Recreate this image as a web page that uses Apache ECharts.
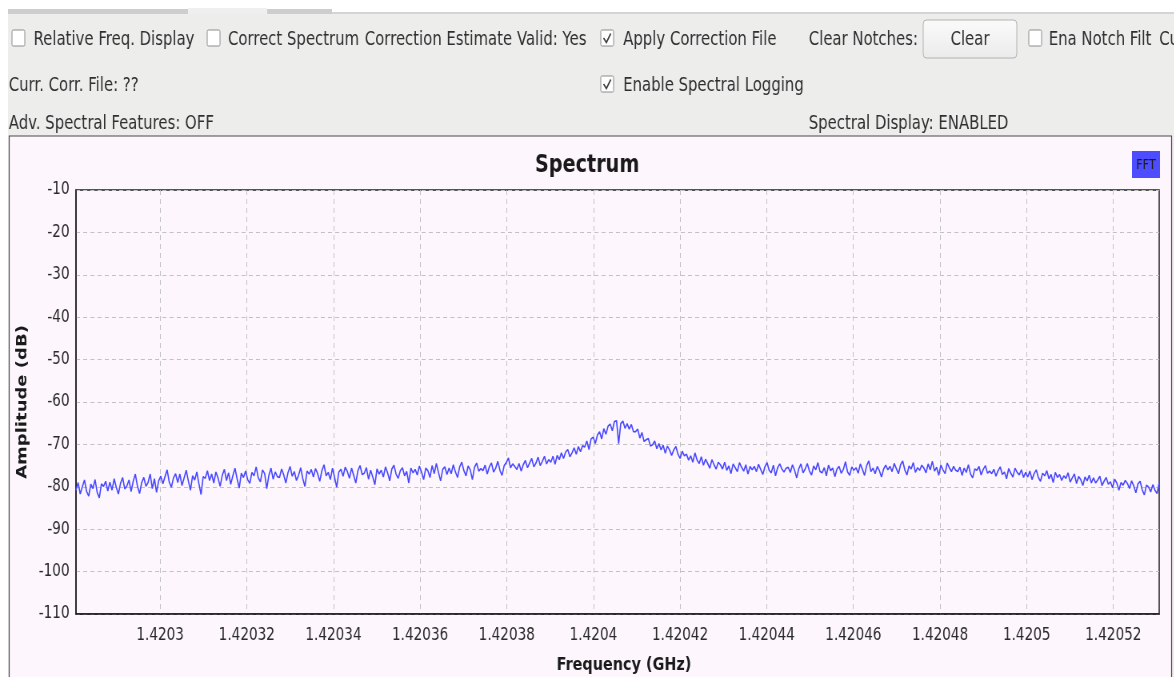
<!DOCTYPE html>
<html>
<head>
<meta charset="utf-8">
<title>Spectrum</title>
<script src="https://cdn.jsdelivr.net/npm/echarts@6/dist/echarts.min.js"></script>
<style>
  html, body { margin: 0; padding: 0; overflow: hidden; background: #ffffff; width: 1174px; height: 677px; }
  /* the widget is laid out wide and squeezed horizontally to fit the window */
  #chart { width: 1468px; height: 677px; transform: scaleX(0.8); transform-origin: 0 0; }
</style>
</head>
<body>
<div id="chart"></div>
<script>
// Frequency span of the FFT display (GHz)
const freqStart = 1.42028058;
const freqStop = 1.42053058;

// Tick positions on the frequency axis (GHz)
const freqTicks = [1.4203, 1.42032, 1.42034, 1.42036, 1.42038, 1.4204,
                   1.42042, 1.42044, 1.42046, 1.42048, 1.4205, 1.42052];

// Amplitude axis range (dB)
const ampMin = -110;
const ampMax = -10;
const ampStep = 10;

// Averaged power spectrum, one value per FFT bin (dB)
const amplitudeDb = [
  -80.8,-79.0,-81.7,-80.0,-78.4,-81.1,-82.2,-79.4,-80.4,-78.3,-81.3,-82.6,-79.3,-79.9,-78.7,-81.0,
  -78.9,-80.8,-78.1,-80.1,-81.7,-79.2,-77.8,-80.5,-79.8,-78.4,-81.1,-78.7,-77.0,-79.9,-81.6,-79.0,
  -77.8,-79.9,-79.0,-77.0,-80.4,-78.1,-81.3,-78.6,-77.5,-79.3,-77.6,-76.0,-78.9,-80.1,-77.9,-76.9,
  -79.0,-77.0,-79.7,-77.9,-76.1,-78.6,-80.8,-77.4,-78.4,-76.5,-79.3,-81.8,-77.6,-78.0,-76.2,-78.5,
  -77.0,-79.1,-76.5,-77.9,-79.9,-77.3,-75.9,-78.5,-76.7,-79.4,-77.4,-75.6,-78.1,-80.3,-76.8,-77.8,
  -76.3,-78.3,-79.2,-76.6,-77.4,-75.3,-77.9,-78.8,-76.0,-76.9,-80.4,-77.3,-75.6,-78.2,-76.5,-77.6,
  -77.8,-75.8,-77.2,-79.1,-76.7,-75.2,-77.5,-76.4,-78.5,-77.3,-75.5,-78.1,-79.9,-76.3,-77.0,-75.9,
  -77.7,-75.7,-76.9,-78.7,-76.2,-74.8,-77.4,-76.6,-78.3,-75.6,-77.8,-80.1,-76.5,-75.9,-77.5,-75.4,
  -76.4,-78.0,-75.6,-77.3,-79.1,-76.2,-75.0,-77.1,-76.8,-75.5,-78.2,-76.1,-77.7,-79.5,-75.8,-77.0,
  -76.1,-77.7,-75.3,-76.7,-78.6,-75.8,-74.9,-77.0,-78.0,-76.2,-75.5,-77.4,-76.4,-79.1,-75.6,-76.7,
  -75.9,-77.2,-75.1,-76.5,-78.3,-75.6,-76.2,-77.8,-75.0,-76.9,-74.5,-76.6,-78.6,-75.9,-75.3,-77.1,
  -75.6,-76.9,-74.8,-76.5,-77.8,-75.3,-74.2,-76.2,-77.4,-75.1,-76.0,-78.3,-75.4,-74.4,-76.3,-75.7,
  -76.2,-74.9,-77.0,-75.3,-74.4,-76.5,-75.6,-74.0,-76.1,-77.3,-75.0,-74.3,-73.2,-75.5,-74.6,-75.2,
  -75.9,-74.5,-76.3,-74.8,-73.8,-75.5,-74.4,-73.3,-75.3,-74.4,-73.0,-75.0,-74.0,-72.8,-74.6,-73.6,
  -74.2,-72.8,-74.7,-72.6,-73.6,-72.0,-73.3,-71.8,-71.2,-72.9,-72.0,-70.8,-72.3,-70.5,-71.7,-70.3,
  -70.6,-69.2,-71.2,-68.7,-68.3,-69.8,-67.8,-67.0,-68.7,-66.3,-67.6,-65.7,-65.2,-66.8,-64.6,-64.4,
  -69.8,-65.1,-64.5,-66.2,-65.1,-66.4,-65.3,-67.0,-67.0,-66.4,-68.5,-67.2,-69.3,-68.9,-68.6,-70.4,
  -70.1,-69.2,-71.0,-69.8,-71.3,-70.2,-72.1,-70.4,-71.3,-72.6,-71.3,-70.5,-72.3,-73.3,-71.6,-72.7,
  -72.3,-73.7,-72.7,-74.2,-72.0,-73.7,-74.5,-72.9,-74.9,-73.5,-74.5,-75.6,-73.6,-74.8,-75.8,-74.2,
  -74.8,-75.8,-74.2,-76.1,-75.1,-76.9,-74.6,-75.5,-76.4,-74.3,-75.4,-76.3,-74.8,-77.0,-75.2,-76.0,
  -75.2,-76.4,-74.7,-75.9,-77.1,-75.3,-74.3,-76.1,-76.7,-74.9,-77.4,-75.5,-74.6,-75.8,-76.5,-75.6,
  -75.4,-76.6,-74.8,-76.1,-77.9,-75.7,-74.6,-76.7,-75.8,-74.5,-76.3,-77.2,-75.1,-76.0,-74.3,-76.4,
  -76.7,-75.5,-77.4,-74.9,-76.2,-75.6,-77.6,-75.8,-75.2,-76.8,-75.9,-74.1,-76.5,-77.3,-75.3,-76.1,
  -75.5,-76.8,-74.6,-75.9,-77.3,-75.0,-73.9,-76.4,-75.6,-76.9,-75.2,-76.2,-77.7,-75.8,-74.9,-76.0,
  -75.2,-76.4,-74.5,-75.7,-76.9,-74.8,-73.9,-76.0,-77.2,-75.1,-75.8,-74.3,-76.6,-75.5,-76.1,-74.9,
  -75.6,-76.7,-74.6,-76.0,-74.0,-76.3,-75.4,-77.3,-74.9,-76.0,-76.9,-74.4,-75.5,-76.4,-75.2,-76.1,
  -76.4,-75.4,-77.3,-75.6,-76.6,-74.8,-77.0,-77.9,-75.8,-76.1,-75.2,-77.2,-75.9,-75.0,-76.8,-76.3,
  -76.9,-75.9,-77.5,-76.2,-75.3,-77.1,-76.5,-78.1,-75.7,-76.8,-77.7,-75.6,-76.6,-77.2,-76.0,-77.8,
  -76.6,-77.7,-76.3,-78.3,-76.9,-76.0,-77.8,-78.7,-76.8,-77.4,-76.2,-78.1,-77.1,-79.0,-76.6,-77.8,
  -77.1,-78.5,-77.4,-78.0,-76.7,-78.9,-77.9,-77.0,-79.2,-77.6,-78.3,-79.7,-77.7,-78.6,-77.3,-79.1,
  -77.9,-79.1,-78.4,-77.5,-79.7,-78.7,-77.8,-79.4,-78.8,-80.2,-78.2,-79.1,-80.8,-79.0,-79.6,-78.5,
  -79.2,-80.4,-78.6,-79.8,-81.4,-79.3,-78.7,-80.7,-81.9,-79.6,-80.1,-81.2,-79.5,-80.8,-81.6,-79.0
];

// Control strip texts
const labelsRow1 = ['Relative Freq. Display', 'Correct Spectrum', 'Correction Estimate Valid: Yes',
                    'Apply Correction File', 'Clear Notches:', 'Clear', 'Ena Notch Filt', 'Cu'];
const labelsRow2 = ['Curr. Corr. File: ??', 'Enable Spectral Logging'];
const labelsRow3 = ['Adv. Spectral Features: OFF', 'Spectral Display: ENABLED'];

const FONT = '"DejaVu Sans", sans-serif';
const UI_FONT = '18.6px ' + FONT;
const TEXT_COLOR = '#2f2f2f';
const LINE_COLOR = '#4848ff';

// FFT bin centre frequencies
const binCount = amplitudeDb.length;
const binWidth = (freqStop - freqStart) / (binCount - 1);
const spectrum = amplitudeDb.map((v, i) => [freqStart + i * binWidth, v]);

function label(text, x, y, align) {
  return {
    type: 'text', z: 5,
    style: { text: text, x: x, y: y, fill: TEXT_COLOR, font: UI_FONT,
             align: align || 'left', verticalAlign: 'middle' }
  };
}
function checkbox(x, y, checked) {
  const items = [{
    type: 'rect', z: 5,
    shape: { x: x, y: y, width: 16, height: 16, r: 1.5 },
    style: { fill: '#ffffff', stroke: '#8c8c8c', lineWidth: 1 }
  }];
  if (checked) {
    items.push({
      type: 'polyline', z: 6,
      shape: { points: [[x + 3.5, y + 8], [x + 7, y + 12.5], [x + 12.5, y + 3.5]] },
      style: { stroke: '#3a3a3a', lineWidth: 1.6, fill: null }
    });
  }
  return items;
}

const graphics = [
  // tab strip
  { type: 'rect', z: -20, shape: { x: 0, y: 0, width: 1468, height: 14 }, style: { fill: '#ffffff' } },
  { type: 'rect', z: -19, shape: { x: 10, y: 9, width: 225, height: 5 }, style: { fill: '#cdcdcd' } },
  { type: 'rect', z: -19, shape: { x: 235, y: 8, width: 99, height: 6 }, style: { fill: '#efefef' } },
  { type: 'rect', z: -19, shape: { x: 334, y: 9, width: 81, height: 5 }, style: { fill: '#cdcdcd' } },
  { type: 'rect', z: -19, shape: { x: 415, y: 12, width: 1053, height: 2 }, style: { fill: '#d4d4d4' } },
  // control panel background
  { type: 'rect', z: -20, shape: { x: 10, y: 14, width: 1458, height: 663 }, style: { fill: '#ededec' } },
  // plot widget background and frame
  { type: 'rect', z: -10, shape: { x: 11.5, y: 136, width: 1453, height: 560 },
    style: { fill: '#fdf7fd', stroke: '#4a4a4a', lineWidth: 1.2 } },
  // row 1
  ...checkbox(15, 30, false),
  label(labelsRow1[0], 42, 40.5),
  ...checkbox(259, 30, false),
  label(labelsRow1[1], 285, 40.5),
  label(labelsRow1[2], 456, 40.5),
  ...checkbox(751, 30, true),
  label(labelsRow1[3], 779, 40.5),
  label(labelsRow1[4], 1011, 40.5),
  { type: 'rect', z: 5, shape: { x: 1154, y: 20, width: 117, height: 38, r: 4 },
    style: { stroke: '#b2b2b2', lineWidth: 1,
      fill: { type: 'linear', x: 0, y: 0, x2: 0, y2: 1,
              colorStops: [{ offset: 0, color: '#fbfbfb' }, { offset: 1, color: '#ebebeb' }] } } },
  label(labelsRow1[5], 1212.5, 40.5, 'center'),
  ...checkbox(1286, 30, false),
  label(labelsRow1[6], 1311, 40.5),
  label(labelsRow1[7], 1449, 40.5),
  // row 2
  label(labelsRow2[0], 11, 86),
  ...checkbox(751, 76, true),
  label(labelsRow2[1], 779, 86),
  // row 3
  label(labelsRow3[0], 11, 124),
  label(labelsRow3[1], 1011, 124),
  // curve legend swatch
  { type: 'rect', z: 5, shape: { x: 1415, y: 151, width: 35, height: 27 }, style: { fill: '#4d4dff' } },
  { type: 'text', z: 6, style: { text: 'FFT', x: 1432.5, y: 165, fill: '#1c1c1c',
    font: '14px ' + FONT, align: 'center', verticalAlign: 'middle' } }
];

const chart = echarts.init(document.getElementById('chart'), null, { renderer: 'canvas' });
chart.setOption({
  animation: false,
  backgroundColor: 'transparent',
  title: {
    text: 'Spectrum', left: 'center', top: 149, padding: [5, 5, 5, 13],
    textStyle: { fontFamily: FONT, fontSize: 24, fontWeight: 'bold', color: '#1a1a1a' }
  },
  graphic: graphics,
  grid: {
    left: 95, right: 19, top: 190, bottom: 63, outerBoundsMode: 'none',
    show: true, borderColor: '#1e1e1e', borderWidth: 1.5, backgroundColor: 'transparent'
  },
  xAxis: {
    type: 'value', min: freqStart, max: freqStop,
    name: 'Frequency (GHz)', nameLocation: 'middle', nameGap: 42,
    nameTextStyle: { fontFamily: FONT, fontSize: 18, fontWeight: 'bold', color: '#1a1a1a', padding: [0, 0, 0, 16] },
    axisLine: { show: true, lineStyle: { color: '#1e1e1e', width: 1.5 } },
    axisTick: { show: false, customValues: freqTicks },
    axisLabel: {
      customValues: freqTicks, margin: 13,
      fontFamily: FONT, fontSize: 17, color: '#2a2a2a',
      formatter: v => String(+v.toFixed(6))
    },
    splitLine: { show: true, lineStyle: { color: '#c2c2c2', width: 1, type: [5, 4] } }
  },
  yAxis: {
    type: 'value', min: ampMin, max: ampMax, interval: ampStep,
    name: 'Amplitude (dB)', nameLocation: 'middle', nameGap: 55,
    nameTextStyle: { fontFamily: FONT, fontSize: 18, fontWeight: 'bold', color: '#1a1a1a' },
    axisLine: { show: true, lineStyle: { color: '#1e1e1e', width: 1.5 } },
    axisTick: { show: false },
    axisLabel: { margin: 8, fontFamily: FONT, fontSize: 17, color: '#2a2a2a' },
    splitLine: { show: true, lineStyle: { color: '#c2c2c2', width: 1, type: [5, 4] } }
  },
  series: [{
    name: 'FFT', type: 'line', data: spectrum,
    showSymbol: false, sampling: null, clip: true,
    lineStyle: { color: LINE_COLOR, width: 1.6 }
  }]
});
</script>
</body>
</html>
